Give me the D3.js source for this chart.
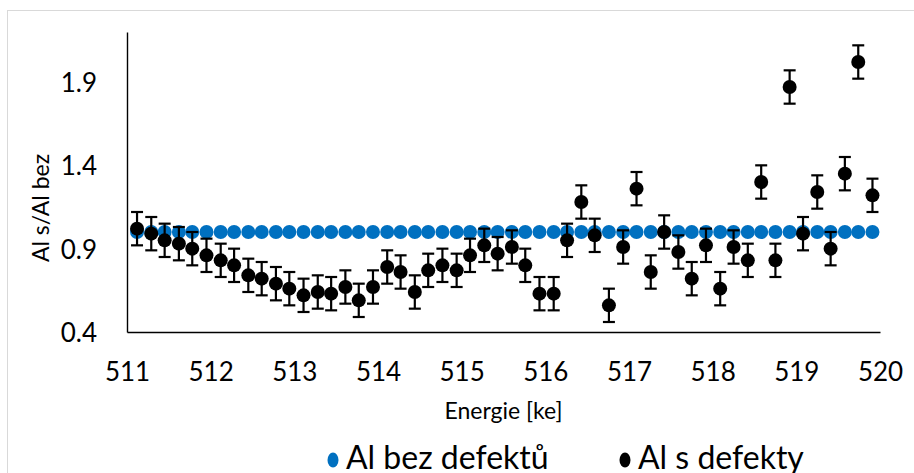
<!DOCTYPE html>
<html>
<head>
<meta charset="utf-8">
<script src="https://cdn.jsdelivr.net/npm/d3@7"></script>
<style>
  html, body { margin: 0; padding: 0; background: #fff; }
  svg { display: block; font-family: Lato, "Noto Sans", sans-serif; }
</style>
</head>
<body>
<svg id="chart" width="914" height="473"></svg>
<script>
// Energy channels [keV]
const energies = [
  511.12, 511.29, 511.45, 511.62, 511.78, 511.95, 512.12, 512.28, 512.45, 512.61,
  512.78, 512.94, 513.11, 513.28, 513.44, 513.61, 513.77, 513.94, 514.11, 514.27,
  514.44, 514.60, 514.77, 514.94, 515.10, 515.27, 515.43, 515.60, 515.76, 515.93,
  516.10, 516.26, 516.43, 516.59, 516.76, 516.93, 517.09, 517.26, 517.42, 517.59,
  517.75, 517.92, 518.09, 518.25, 518.42, 518.58, 518.75, 518.92, 519.08, 519.25,
  519.41, 519.58, 519.74, 519.91
];

// Reference sample (ratio to itself)
const alBez = [
  1, 1, 1, 1, 1, 1, 1, 1, 1, 1,
  1, 1, 1, 1, 1, 1, 1, 1, 1, 1,
  1, 1, 1, 1, 1, 1, 1, 1, 1, 1,
  1, 1, 1, 1, 1, 1, 1, 1, 1, 1,
  1, 1, 1, 1, 1, 1, 1, 1, 1, 1,
  1, 1, 1, 1
];

// Sample with defects, ratio to the reference
const alS = [
  1.02, 0.99, 0.95, 0.93, 0.90, 0.86, 0.83, 0.80, 0.74, 0.72,
  0.69, 0.66, 0.62, 0.64, 0.63, 0.67, 0.59, 0.67, 0.79, 0.76,
  0.64, 0.77, 0.80, 0.77, 0.86, 0.92, 0.87, 0.91, 0.80, 0.63,
  0.63, 0.95, 1.18, 0.98, 0.56, 0.91, 1.26, 0.76, 1.00, 0.88,
  0.72, 0.92, 0.66, 0.91, 0.83, 1.30, 0.83, 1.87, 0.99, 1.24,
  0.90, 1.35, 2.02, 1.22
];

// Uncertainty of each ratio (± value)
const alSError = 0.1;

const xTicks = [511, 512, 513, 514, 515, 516, 517, 518, 519, 520];
const yTicks = [0.4, 0.9, 1.4, 1.9];
const seriesNames = ["Al bez defektů", "Al s defekty"];
const seriesColors = ["#0070C0", "#000000"];
const xTitle = "Energie [ke]";
const yTitle = "Al s/Al bez";

const svg = d3.select("#chart");

// outer chart frame
svg.append("rect")
  .attr("x", 7.5).attr("y", 10.5)
  .attr("width", 930).attr("height", 480)
  .attr("fill", "#fff")
  .attr("stroke", "#d9d9d9")
  .attr("stroke-width", 1);

const x = d3.scaleLinear().domain([511, 520]).range([127, 880]);
const y = d3.scaleLinear().domain([0.4, 2.2]).range([332, 32]);

// axes
const xAxis = svg.append("g")
  .attr("transform", `translate(0,${y(0.4)})`)
  .call(d3.axisBottom(x).tickValues(xTicks).tickSize(0).tickSizeOuter(0).tickFormat(d3.format("d")));
xAxis.select(".domain").attr("stroke", "#000").attr("stroke-width", 1.4);
xAxis.selectAll("text")
  .attr("y", 49).attr("dy", 0)
  .attr("fill", "#000")
  .style("font-size", "26px")
  .style("font-family", "Lato, 'Noto Sans', sans-serif");

const yAxis = svg.append("g")
  .attr("transform", `translate(${x(511)},0)`)
  .call(d3.axisLeft(y).tickValues(yTicks).tickSize(0).tickSizeOuter(0).tickFormat(d3.format(".1f")));
yAxis.select(".domain").attr("stroke", "#000").attr("stroke-width", 1.4);
yAxis.selectAll("text")
  .attr("x", -30).attr("dy", "0.36em")
  .attr("fill", "#000")
  .style("font-size", "26px")
  .style("font-family", "Lato, 'Noto Sans', sans-serif");

// axis titles
svg.append("text")
  .attr("x", (x(511) + x(520)) / 2).attr("y", 419)
  .attr("text-anchor", "middle")
  .style("font-size", "23px")
  .attr("fill", "#000")
  .text(xTitle);

svg.append("text")
  .attr("transform", `translate(49,208) rotate(-90)`)
  .attr("text-anchor", "middle")
  .style("font-size", "23px")
  .attr("fill", "#000")
  .text(yTitle);

const r = 7;
const bezData = energies.map((e, i) => ({ e, v: alBez[i] }));
const sData = energies.map((e, i) => ({ e, v: alS[i] }));

// reference series
svg.append("g").selectAll("circle")
  .data(bezData).join("circle")
  .attr("cx", d => x(d.e)).attr("cy", d => y(d.v))
  .attr("r", r).attr("fill", seriesColors[0]);

// error bars of the defect series
const eb = svg.append("g").attr("stroke", "#000").attr("stroke-width", 2.2);
eb.selectAll("line.v").data(sData).join("line").attr("class", "v")
  .attr("x1", d => x(d.e)).attr("x2", d => x(d.e))
  .attr("y1", d => y(d.v - alSError)).attr("y2", d => y(d.v + alSError));
eb.selectAll("line.t").data(sData).join("line").attr("class", "t")
  .attr("x1", d => x(d.e) - 6).attr("x2", d => x(d.e) + 6)
  .attr("y1", d => y(d.v + alSError)).attr("y2", d => y(d.v + alSError));
eb.selectAll("line.b").data(sData).join("line").attr("class", "b")
  .attr("x1", d => x(d.e) - 6).attr("x2", d => x(d.e) + 6)
  .attr("y1", d => y(d.v - alSError)).attr("y2", d => y(d.v - alSError));

// defect series
svg.append("g").selectAll("circle")
  .data(sData).join("circle")
  .attr("cx", d => x(d.e)).attr("cy", d => y(d.v))
  .attr("r", r).attr("fill", seriesColors[1]);

// legend
const legendItems = [
  { name: seriesNames[0], color: seriesColors[0], mx: 333 },
  { name: seriesNames[1], color: seriesColors[1], mx: 625 }
];
const lg = svg.append("g");
legendItems.forEach(it => {
  lg.append("ellipse")
    .attr("cx", it.mx).attr("cy", 460)
    .attr("rx", 5.5).attr("ry", 7.5)
    .attr("fill", it.color);
  lg.append("text")
    .attr("x", it.mx + 13).attr("y", 469)
    .style("font-size", "32px")
    .attr("fill", "#000")
    .text(it.name);
});
</script>
</body>
</html>
